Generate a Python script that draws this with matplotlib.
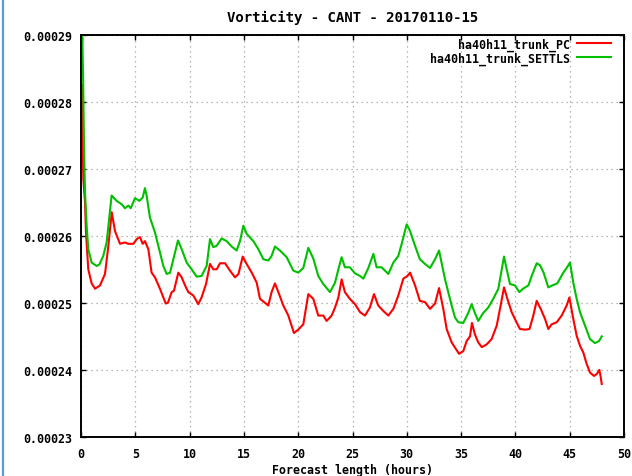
import numpy as np
import matplotlib
matplotlib.use('Agg')
import matplotlib.pyplot as plt
from matplotlib.lines import Line2D
from matplotlib.ticker import FormatStrFormatter, MultipleLocator

# vorticity in units of 1e-5, forecast hours on x
pc_hours = [0.0, 0.09, 0.15, 0.21, 0.37, 0.46, 0.67, 0.98, 1.29, 1.75, 2.21, 2.52, 2.83, 3.13, 3.59,
            4.05, 4.36, 4.82, 5.13, 5.43, 5.68, 5.89, 6.2, 6.5, 6.81, 7.27, 7.8, 8.0, 8.35, 8.56,
            8.96, 9.27, 9.58, 9.88, 10.34, 10.8, 11.1, 11.51, 11.88, 12.18, 12.5, 12.8, 13.26, 13.72,
            14.18, 14.5, 14.89, 15.25, 15.72, 16.18, 16.48, 16.95, 17.25, 17.55, 17.86, 18.17, 18.63,
            19.09, 19.61, 20.0, 20.47, 20.93, 21.39, 21.85, 22.31, 22.62, 23.08, 23.39, 23.7, 24.0,
            24.3, 24.75, 25.23, 25.7, 26.15, 26.6, 26.98, 27.37, 27.83, 28.3, 28.76, 29.22, 29.68,
            30.05, 30.3, 30.76, 31.2, 31.68, 32.14, 32.6, 32.97, 33.36, 33.67, 34.13, 34.53, 34.81,
            35.2, 35.51, 35.82, 36.0, 36.27, 36.58, 36.9, 37.35, 37.81, 38.28, 38.64, 38.95, 39.26,
            39.66, 40.1, 40.42, 40.9, 41.3, 41.65, 41.96, 42.33, 42.73, 43.03, 43.34, 43.8, 44.26,
            44.72, 44.97, 45.33, 45.64, 45.95, 46.25, 46.56, 46.87, 47.24, 47.5, 47.73, 47.85, 47.95]
pc_vort = [27.95, 28.25, 27.5, 26.85, 26.5, 26.05, 25.50, 25.29, 25.21, 25.26, 25.43, 25.85, 26.35, 26.07, 25.88,
           25.90, 25.88, 25.88, 25.95, 25.98, 25.88, 25.92, 25.80, 25.45, 25.38, 25.21, 24.99, 25.0, 25.16, 25.18,
           25.45, 25.38, 25.26, 25.16, 25.11, 24.98, 25.08, 25.28, 25.58, 25.50, 25.50, 25.59, 25.59, 25.48,
           25.38, 25.43, 25.69, 25.58, 25.45, 25.30, 25.06, 25.0, 24.96, 25.16, 25.29, 25.16, 24.96,
           24.81, 24.55, 24.6, 24.68, 25.13, 25.06, 24.81, 24.81, 24.73, 24.81, 24.93, 25.08, 25.35,
           25.16, 25.06, 24.98, 24.86, 24.81, 24.93, 25.13, 24.96, 24.88, 24.81, 24.91, 25.11, 25.36,
           25.40, 25.45, 25.26, 25.03, 25.01, 24.91, 24.99, 25.22, 24.91, 24.61, 24.41, 24.31, 24.24,
           24.28, 24.43, 24.5, 24.70, 24.53, 24.41, 24.34, 24.38, 24.46, 24.66, 24.96, 25.23, 25.06,
           24.86, 24.71, 24.61, 24.60, 24.61, 24.81, 25.03, 24.91, 24.76, 24.61, 24.68, 24.71, 24.81,
           24.96, 25.08, 24.76, 24.51, 24.36, 24.26, 24.09, 23.96, 23.91, 23.94, 24.0, 23.9, 23.79]

settls_hours = [0.0, 0.12, 0.2, 0.28, 0.37, 0.52, 0.67, 0.98, 1.44, 1.69, 2.05, 2.36, 2.82, 3.28, 3.74,
                4.05, 4.36, 4.58, 4.97, 5.38, 5.68, 5.89, 6.04, 6.35, 6.81, 7.27, 7.58, 7.89, 8.2, 8.5,
                8.93, 9.27, 9.73, 10.19, 10.65, 11.1, 11.57, 11.88, 12.18, 12.49, 12.95, 13.41, 13.87,
                14.33, 14.64, 14.95, 15.25, 15.87, 16.33, 16.79, 17.25, 17.55, 17.86, 18.32, 18.94,
                19.55, 20.01, 20.47, 20.93, 21.39, 21.85, 22.31, 22.93, 23.39, 23.7, 24.0, 24.3, 24.75,
                25.23, 25.7, 26.0, 26.46, 26.92, 27.22, 27.68, 28.3, 28.76, 29.22, 29.53, 29.99, 30.3,
                30.76, 31.2, 31.68, 32.14, 32.6, 32.97, 33.2, 33.52, 33.82, 34.13, 34.44, 34.75, 35.2,
                35.66, 35.97, 36.27, 36.58, 37.04, 37.5, 37.96, 38.43, 38.74, 38.95, 39.2, 39.5, 39.96,
                40.36, 40.7, 41.2, 41.5, 41.96, 42.27, 42.6, 43.03, 43.4, 43.86, 44.41, 44.72, 45.03,
                45.33, 45.64, 45.95, 46.41, 46.87, 47.33, 47.7, 47.95]
settls_vort = [28.5, 28.96, 28.3, 27.3, 26.65, 26.15, 25.80, 25.60, 25.55, 25.57, 25.70, 25.90, 26.60, 26.52, 26.47,
               26.41, 26.45, 26.41, 26.56, 26.52, 26.57, 26.71, 26.60, 26.27, 26.05, 25.75, 25.55, 25.43, 25.45, 25.65,
               25.93, 25.80, 25.60, 25.50, 25.39, 25.40, 25.55, 25.95, 25.83, 25.85, 25.96, 25.92, 25.84,
               25.78, 25.92, 26.15, 26.03, 25.92, 25.80, 25.65, 25.63, 25.70, 25.84, 25.78, 25.68,
               25.48, 25.45, 25.52, 25.82, 25.66, 25.40, 25.28, 25.16, 25.30, 25.50, 25.68, 25.53, 25.53,
               25.44, 25.40, 25.36, 25.52, 25.73, 25.53, 25.53, 25.43, 25.60, 25.70, 25.88, 26.17, 26.07,
               25.85, 25.65, 25.58, 25.52, 25.65, 25.78, 25.60, 25.35, 25.16, 24.96, 24.78, 24.71, 24.70,
               24.85, 24.98, 24.85, 24.73, 24.85, 24.93, 25.06, 25.21, 25.50, 25.69, 25.50, 25.28, 25.26,
               25.16, 25.21, 25.26, 25.40, 25.59, 25.56, 25.45, 25.23, 25.26, 25.29, 25.45, 25.52, 25.60,
               25.30, 25.06, 24.86, 24.66, 24.46, 24.40, 24.43, 24.50]

title = 'Vorticity - CANT - 20170110-15'
labels = ['ha40h11_trunk_PC', 'ha40h11_trunk_SETTLS']

plt.rcParams['font.family'] = 'DejaVu Sans Mono'
plt.rcParams['font.weight'] = 'bold'
plt.rcParams['font.size'] = 8.4

fig = plt.figure(figsize=(6.32, 4.77), dpi=100)
ax = fig.add_axes([81 / 632, 1 - 438 / 477, 543 / 632, 402.5 / 477])

ax.plot(pc_hours, np.array(pc_vort) * 1e-5, color='#ff0000', lw=1.5, label=labels[0])
ax.plot(settls_hours, np.array(settls_vort) * 1e-5, color='#00c000', lw=1.5, label=labels[1])

ax.set_xlim(0, 50)
ax.set_ylim(0.00023, 0.00029)
ax.xaxis.set_major_locator(MultipleLocator(5))
ax.yaxis.set_major_locator(MultipleLocator(0.00001))
ax.yaxis.set_major_formatter(FormatStrFormatter('%.5f'))
ax.tick_params(direction='in', length=3.5, width=1, top=True, right=True, color='black')
ax.tick_params(axis='x', pad=7)
ax.tick_params(axis='y', pad=6.5)
ax.grid(True, color='#a0a0a0', linestyle=(0, (1, 3)), lw=0.9)
for s in ax.spines.values():
    s.set_linewidth(1.4)

ax.set_title(title, pad=10, fontweight='bold')
ax.set_xlabel('Forecast length (hours)', labelpad=2.5, fontweight='bold')

ax.legend(loc='upper right', bbox_to_anchor=(0.976, 0.993), frameon=False, markerfirst=False,
          borderpad=0, borderaxespad=0, handlelength=2.9, handletextpad=0.6, labelspacing=0.08)

fig.add_artist(Line2D([3 / 632, 3 / 632], [0, 1], color='#5b9bd5', lw=1.6))

fig.savefig('out.png', dpi=100)
